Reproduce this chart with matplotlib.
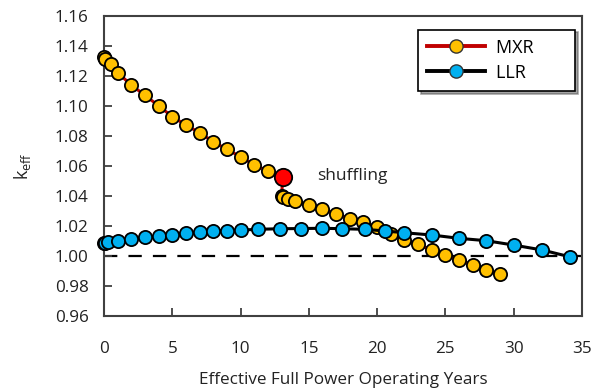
import matplotlib
matplotlib.use('Agg')
import matplotlib.pyplot as plt

plt.rcParams['font.family'] = ['Open Sans', 'DejaVu Sans']

# MXR before shuffling (ends with the shuffling point)
mxr_x1 = [0, 0.1, 0.5, 1, 2, 3, 4, 5, 6, 7, 8, 9, 10, 11, 12]
mxr_y1 = [1.1329, 1.1311, 1.128, 1.1222, 1.114, 1.1071, 1.1002, 1.0929, 1.0873,
          1.0822, 1.0762, 1.0711, 1.0662, 1.0607, 1.0567]
shuf_x = 13.1
shuf_y = 1.0529
# MXR after shuffling
mxr_x2 = [13.0, 13.1, 13.5, 14, 15, 16, 17, 18, 19, 20, 21, 22, 23, 24, 25, 26, 27, 28, 29]
mxr_y2 = [1.0398, 1.0392, 1.0378, 1.0367, 1.034, 1.0313, 1.028, 1.025, 1.0225, 1.0192,
          1.0149, 1.0107, 1.0078, 1.004, 1.0007, 0.9973, 0.994, 0.9907, 0.9878]

llr_x = [0, 0.1, 0.3, 1, 2, 3, 4, 5, 6, 7, 8, 9, 10, 11.3, 12.9, 14.4, 16.0, 17.4,
         19.1, 20.6, 22.0, 24.0, 26.0, 28.0, 30.0, 32.1, 34.1]
llr_y = [1.0089, 1.0090, 1.0096, 1.0102, 1.0111, 1.0125, 1.0133, 1.0142, 1.0155, 1.016,
         1.0169, 1.0170, 1.0173, 1.0178, 1.0182, 1.0183, 1.0185, 1.0182, 1.0178, 1.0167,
         1.0155, 1.0140, 1.0118, 1.0102, 1.0073, 1.004, 0.9995]

yticks = [0.96, 0.98, 1.00, 1.02, 1.04, 1.06, 1.08, 1.10, 1.12, 1.14, 1.16]
xticks = [0, 5, 10, 15, 20, 25, 30, 35]

red = '#C00000'
gold = '#FFC000'
blue = '#00B0F0'
axc = '#404040'
txt = '#222222'

fig = plt.figure(figsize=(5.95, 3.91), dpi=100)
ax = fig.add_axes([0.1748, 0.1918, 0.8032, 0.7672])

ax.axhline(1.0, color='black', linestyle=(0, (6, 5)), linewidth=1.6, zorder=1)

mx = mxr_x1 + [shuf_x]
my = mxr_y1 + [shuf_y]
ax.plot(mx + mxr_x2, my + mxr_y2, color=red, linewidth=2.2, zorder=2)
ax.plot(mxr_x1, mxr_y1, 'o', color=gold, markeredgecolor='black', markeredgewidth=1.3,
        markersize=9.5, zorder=3, clip_on=False)
ax.plot(mxr_x2, mxr_y2, 'o', color=gold, markeredgecolor='black', markeredgewidth=1.3,
        markersize=9.5, zorder=3)
ax.plot([shuf_x], [shuf_y], 'o', color='#FF0000', markeredgecolor='black',
        markeredgewidth=1.3, markersize=12.5, zorder=4)

ax.plot(llr_x, llr_y, '-o', color='black', markerfacecolor=blue, markeredgecolor='black',
        markeredgewidth=1.3, markersize=9.5, linewidth=2.2, zorder=5, clip_on=False)

# legend proxies
ax.plot([], [], '-o', color=red, markerfacecolor=gold, markeredgecolor='#333333',
        markeredgewidth=1, markersize=9.5, linewidth=2.8, label='MXR       ')
ax.plot([], [], '-o', color='black', markerfacecolor=blue, markeredgecolor='#333333',
        markeredgewidth=1, markersize=9.5, linewidth=2.8, label='LLR       ')
handles, labels = ax.get_legend_handles_labels()
leg = ax.legend(handles[-2:], labels[-2:], loc='upper right', bbox_to_anchor=(0.985, 0.955),
                fontsize=13, frameon=True, fancybox=False, shadow=True,
                handlelength=3.2, borderpad=0.5, labelspacing=0.4, handletextpad=0.6,
                borderaxespad=0)
leg.get_frame().set_edgecolor('black')
leg.get_frame().set_linewidth(1.2)
leg.set_zorder(10)

ax.text(15.6, 1.0533, 'shuffling', fontsize=12.5, va='center', ha='left', color=txt)

ax.set_xlim(0, 35)
ax.set_ylim(0.96, 1.16)
ax.set_xticks(xticks)
ax.set_yticks(yticks)
ax.set_yticklabels(['%.2f' % v for v in yticks])
ax.tick_params(direction='in', length=6, width=1.3, color=axc, labelsize=12.3,
               labelcolor=txt)
ax.tick_params(axis='y', pad=11)
ax.tick_params(axis='x', pad=18)
for s in ax.spines.values():
    s.set_color(axc)
    s.set_linewidth(1.5)

ax.set_xlabel('Effective Full Power Operating Years', fontsize=12.3, color=txt, labelpad=11)
ax.set_ylabel(r'k$_{\mathregular{eff}}$', fontsize=13, color=txt, labelpad=16)

fig.savefig('out.png', dpi=100)
